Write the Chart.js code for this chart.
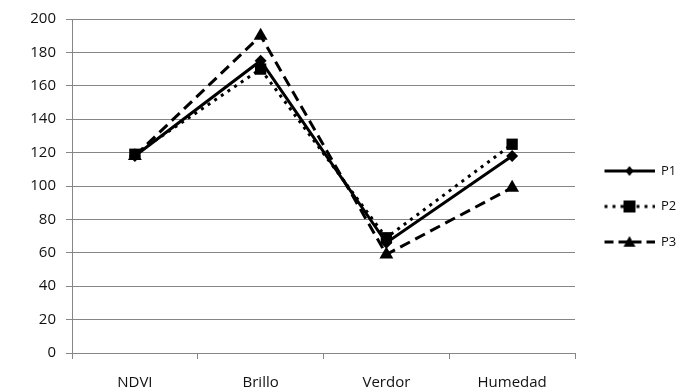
<!DOCTYPE html>
<html>
<head>
<meta charset="utf-8">
<script src="https://cdn.jsdelivr.net/npm/chart.js@4/dist/chart.umd.min.js"></script>
<style>
html,body{margin:0;padding:0;background:#fff;}
#wrap{width:682px;height:392px;position:relative;}
</style>
</head>
<body>
<div id="wrap"><canvas id="c" width="682" height="392"></canvas></div>
<script>
const categories = ['NDVI', 'Brillo', 'Verdor', 'Humedad'];
const seriesNames = ['P1', 'P2', 'P3'];
const p1 = [118, 175, 66, 118];
const p2 = [119, 170, 69, 125];
const p3 = [118, 190, 59, 99];
const yTicks = [0, 20, 40, 60, 80, 100, 120, 140, 160, 180, 200];

const FONT = "'Open Sans', 'DejaVu Sans', sans-serif";

function legendIcon(dash, style, r) {
  const cv = document.createElement('canvas');
  cv.width = 57; cv.height = 16;
  const ctx = cv.getContext('2d');
  ctx.strokeStyle = '#000';
  ctx.lineWidth = 3;
  ctx.setLineDash(dash);
  ctx.beginPath();
  ctx.moveTo(7, 8); ctx.lineTo(57, 8);
  ctx.stroke();
  ctx.setLineDash([]);
  ctx.fillStyle = '#000';
  ctx.beginPath();
  const cx = 32, cy = 8;
  if (style === 'rectRot') {
    ctx.moveTo(cx, cy - r); ctx.lineTo(cx + r * 0.8, cy); ctx.lineTo(cx, cy + r); ctx.lineTo(cx - r * 0.8, cy);
  } else if (style === 'rect') {
    ctx.rect(cx - r, cy - r, 2 * r, 2 * r);
  } else {
    ctx.moveTo(cx, cy - r); ctx.lineTo(cx + r, cy + r * 0.8); ctx.lineTo(cx - r, cy + r * 0.8);
  }
  ctx.closePath();
  ctx.fill();
  return cv;
}

const styles = [
  {dash: [], point: 'rectRot', radius: 6, icon: [[], 'rectRot', 5]},
  {dash: [3, 5], point: 'rect', radius: 8, icon: [[3, 5], 'rect', 6]},
  {dash: [11, 6], point: 'triangle', radius: 8, icon: [[9, 5], 'triangle', 6]}
];
const values = [p1, p2, p3];

const datasets = seriesNames.map((name, i) => ({
  label: name,
  data: values[i],
  borderColor: '#000',
  backgroundColor: '#000',
  borderWidth: 3,
  borderDash: styles[i].dash,
  pointStyle: styles[i].point,
  pointRadius: styles[i].radius,
  pointBackgroundColor: '#000',
  pointBorderColor: '#000',
  pointBorderWidth: 0,
  tension: 0,
  fill: false
}));

const icons = styles.map(s => legendIcon(s.icon[0], s.icon[1], s.icon[2]));

new Chart(document.getElementById('c'), {
  type: 'line',
  data: {labels: categories, datasets: datasets},
  options: {
    responsive: false,
    animation: false,
    devicePixelRatio: 1,
    layout: {padding: {left: 0, right: 0, top: 13, bottom: 0}},
    plugins: {
      tooltip: {enabled: false},
      legend: {
        display: true,
        position: 'right',
        align: 'start',
        maxWidth: 107,
        title: {display: true, text: '', font: {size: 10}, padding: {top: 117, bottom: 0}},
        labels: {
          usePointStyle: true,
          pointStyleWidth: 57,
          boxHeight: 12,
          padding: 22.5,
          color: '#111',
          font: {family: FONT, size: 13},
          generateLabels: (chart) => chart.data.datasets.map((d, i) => ({
            text: d.label,
            pointStyle: icons[i],
            fillStyle: '#000',
            strokeStyle: '#000',
            lineWidth: 0,
            hidden: false,
            datasetIndex: i,
            fontColor: '#111'
          }))
        }
      }
    },
    scales: {
      x: {
        type: 'category',
        offset: true,
        afterFit: (s) => { s.height = 39; },
        grid: {display: true, drawOnChartArea: false, drawTicks: true, tickLength: 6, offset: true, color: '#868686', lineWidth: 1},
        border: {display: true, color: '#868686', width: 1},
        ticks: {color: '#111', padding: 15, font: {family: FONT, size: 15}}
      },
      y: {
        min: 0, max: 200,
        afterFit: (s) => { s.width = 72; },
        afterBuildTicks: (s) => { s.ticks = yTicks.map(v => ({value: v})); },
        grid: {color: '#868686', lineWidth: 1, tickLength: 6, drawTicks: true},
        border: {display: true, color: '#868686', width: 1},
        ticks: {color: '#111', padding: 10, font: {family: FONT, size: 15}}
      }
    }
  }
});
</script>
</body>
</html>
